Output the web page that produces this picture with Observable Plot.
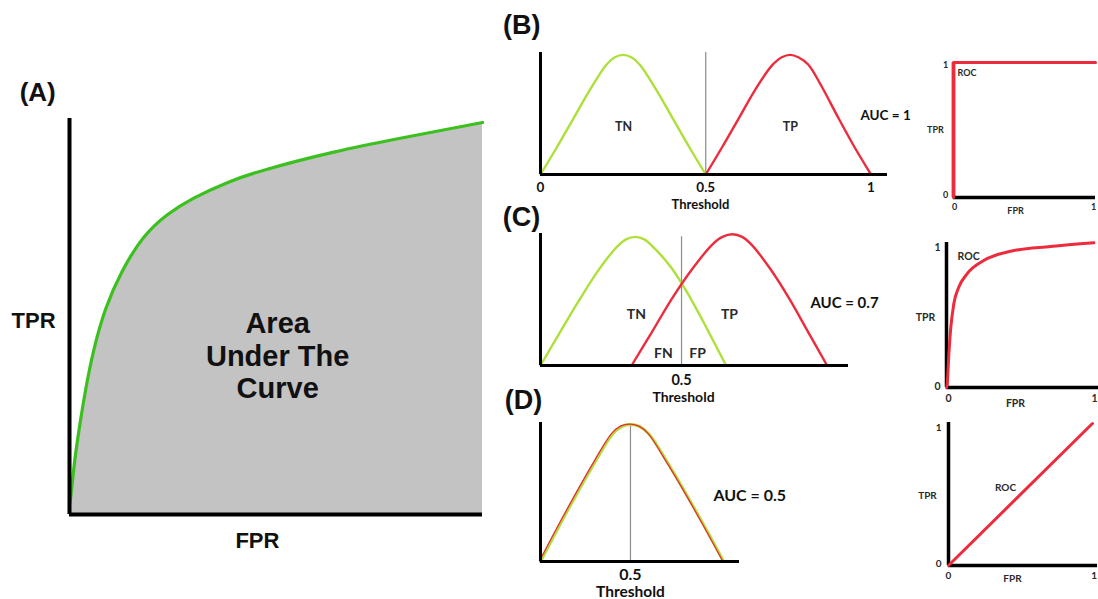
<!DOCTYPE html>
<html><head><meta charset="utf-8">
<script src="https://cdn.jsdelivr.net/npm/d3@7"></script>
<script src="https://cdn.jsdelivr.net/npm/@observablehq/plot@0.6"></script>
<style>
html,body{margin:0;padding:0;background:#fff;}
#chart{position:relative;width:1098px;height:599px;overflow:hidden;background:#fff;}
#chart svg{position:absolute;left:0;top:0;}
</style></head><body><div id="chart"></div>
<script>
// ---------- Panel A: ROC curve with area under it ----------
const rocA_fpr = [0, 0.003, 0.012, 0.024, 0.040, 0.060, 0.088, 0.128, 0.180, 0.237, 0.301, 0.382, 0.479, 0.640, 0.801, 1.0];
const rocA_tpr = [0.03, 0.044, 0.130, 0.220, 0.320, 0.420, 0.520, 0.615, 0.700, 0.757, 0.799, 0.838, 0.872, 0.915, 0.950, 0.990];
const labelsA = [["(A)", -0.077, 1.066], ["TPR", -0.087, 0.490], ["FPR", 0.455, -0.066]];
const aucTextA = [["Area\nUnder The\nCurve", 0.504, 0.402]];

// ---------- Panel B: separated distributions, AUC = 1 ----------
const tnB_t = [0, 0.05, 0.10, 0.15, 0.20, 0.225, 0.25, 0.275, 0.30, 0.35, 0.40, 0.45, 0.50];
const tnB_h = [0, 0.23, 0.47, 0.71, 0.92, 0.98, 1.0, 0.98, 0.92, 0.71, 0.47, 0.23, 0];
const tpB_t = [0.50, 0.55, 0.60, 0.65, 0.70, 0.73, 0.756, 0.78, 0.81, 0.85, 0.90, 0.95, 1.0];
const tpB_h = [0, 0.23, 0.47, 0.71, 0.91, 0.98, 1.0, 0.98, 0.92, 0.74, 0.48, 0.23, 0];
const ticksB = [0, 0.5, 1];
const labelsB = [["TN", 0.251, 0.393], ["TP", 0.756, 0.393]];
const aucB = [["AUC = 1", 0.968, 0.493]];
const rocB_fpr = [0, 0, 1];
const rocB_tpr = [0, 1, 1];

// ---------- Panel C: overlapping distributions, AUC = 0.7 ----------
const tnC_t = [0, 0.067, 0.135, 0.202, 0.270, 0.303, 0.337, 0.368, 0.400, 0.464, 0.530, 0.594, 0.658];
const tnC_h = [0, 0.25, 0.50, 0.73, 0.92, 0.98, 1.0, 0.98, 0.92, 0.76, 0.53, 0.27, 0];
const tpC_t = [0.323, 0.395, 0.466, 0.538, 0.609, 0.645, 0.681, 0.715, 0.748, 0.815, 0.882, 0.949, 1.016];
const tpC_h = [0, 0.26, 0.52, 0.75, 0.94, 1.0, 1.02, 1.0, 0.94, 0.75, 0.52, 0.26, 0];
const ticksC = [0.5];
const labelsC = [["TN", 0.340, 0.396], ["TP", 0.670, 0.396], ["FN", 0.436, 0.093], ["FP", 0.557, 0.093]];
const aucC = [["AUC = 0.7", 0.957, 0.482]];
const rocC_fpr = [0, 0.005, 0.016, 0.027, 0.049, 0.082, 0.138, 0.250, 0.430, 0.698, 0.989];
const rocC_tpr = [0, 0.026, 0.236, 0.399, 0.585, 0.701, 0.795, 0.888, 0.953, 0.986, 1.012];

// ---------- Panel D: identical distributions, AUC = 0.5 ----------
const distD_t = [0, 0.10, 0.20, 0.30, 0.40, 0.45, 0.50, 0.552, 0.604, 0.707, 0.811, 0.914, 1.018];
const distD_h = [0, 0.25, 0.49, 0.72, 0.93, 0.985, 1.0, 0.985, 0.93, 0.72, 0.49, 0.25, 0];
const ticksD = [0.5];
const aucD = [["AUC = 0.5", 0.961, 0.482]];
const rocD_fpr = [0, 1];
const rocD_tpr = [0, 1];

const rocTicks = [0, 1];

// ---------- helpers ----------
const W = 1098, H = 599;
const GREEN = "#aee03a", RED = "#ec2c3c", INK = "#111", DARK = "#2a2a2a";
const SANS = "Lato, 'Open Sans', sans-serif";
const ARIAL = "'Liberation Sans', Arial, sans-serif";
const zip = (a, b) => a.map((v, i) => ({x: v, y: b[i]}));
const lab = (arr) => arr.map(([t, x, y]) => ({t, x, y}));

function panel(box, xd, yd, marks) {
  const svg = Plot.plot({
    width: W, height: H,
    marginLeft: box[0], marginRight: W - box[1], marginTop: box[2], marginBottom: H - box[3],
    x: {domain: xd, axis: null}, y: {domain: yd, axis: null},
    style: {background: "transparent", overflow: "visible", fontFamily: SANS, fontWeight: "bold", color: INK},
    marks
  });
  document.getElementById("chart").appendChild(svg);
}
const txt = (arr, o) => Plot.text(lab(arr), {x: "x", y: "y", text: "t", fill: INK, ...o});
const axes = (w) => [Plot.ruleX([0], {stroke: "#000", strokeWidth: w}), Plot.ruleY([0], {stroke: "#000", strokeWidth: w})];
function xTicks(ticks, yPos, o) {
  return Plot.text(ticks, {x: d => d, y: () => yPos, text: d => String(d), fill: INK, ...o});
}
function rocTickLabels(xl, yl, xb, o) {
  return [
    Plot.text(rocTicks, {x: () => xl, y: d => d === 0 ? yl[0] : yl[1], text: d => String(d), fill: DARK, ...o}),
    Plot.text(rocTicks, {x: d => d === 0 ? xb[0] : xb[1], y: () => xb[2], text: d => String(d), fill: DARK, ...o})
  ];
}

// ---------- Panel A ----------
const dataA = zip(rocA_fpr, rocA_tpr);
panel([69, 482, 118, 514], [0, 1], [0, 1], [
  Plot.areaY(dataA, {x: "x", y: "y", fill: "#c3c3c3", curve: "natural"}),
  Plot.line(dataA, {x: "x", y: "y", stroke: "#3cc01f", strokeWidth: 3.2, curve: "natural"}),
  ...axes(4),
  txt(labelsA.slice(0, 1), {fontSize: 26, fontFamily: ARIAL}),
  txt(labelsA.slice(1), {fontSize: 22, fontFamily: ARIAL}),
  txt(aucTextA, {fontSize: 29, fontFamily: ARIAL, lineHeight: 1.12})
]);

// ---------- Panel B ----------
panel([540, 887, 52, 174], [0, 1.05], [0, 1.02], [
  Plot.ruleX([0.5], {stroke: "#8a8a8a", strokeWidth: 1.2}),
  Plot.line(zip(tnB_t, tnB_h), {x: "x", y: "y", stroke: GREEN, strokeWidth: 2.4, curve: "catmull-rom"}),
  Plot.line(zip(tpB_t, tpB_h), {x: "x", y: "y", stroke: RED, strokeWidth: 2.4, curve: "catmull-rom"}),
  ...axes(3),
  xTicks(ticksB, -0.109, {fontSize: 13.5}),
  txt([["Threshold", 0.484, -0.251]], {fontSize: 13}),
  txt(labelsB, {fontSize: 12.5, fill: DARK}),
  txt(aucB, {fontSize: 13.5, textAnchor: "start"}),
  txt([["(B)", -0.057, 1.246]], {fontSize: 27, fontFamily: ARIAL})
]);
panel([953, 1095, 62, 197], [0, 1], [0, 1], [
  ...axes(3.5),
  Plot.line(zip(rocB_fpr, rocB_tpr), {x: "x", y: "y", stroke: RED, strokeWidth: 3, curve: "linear"}),
  ...rocTickLabels(-0.056, [0.015, 0.978], [0.007, 0.986, -0.074], {fontSize: 9}),
  txt([["TPR", -0.127, 0.496], ["FPR", 0.437, -0.104]], {fontSize: 9, fill: DARK}),
  txt([["ROC", 0.028, 0.919]], {fontSize: 9, fill: DARK, textAnchor: "start"})
]);

// ---------- Panel C ----------
panel([540, 848, 233, 365], [0, 1.092], [0, 1.026], [
  Plot.ruleX([0.5], {y1: 0, y2: 1.0, stroke: "#8a8a8a", strokeWidth: 1.2}),
  Plot.line(zip(tnC_t, tnC_h), {x: "x", y: "y", stroke: GREEN, strokeWidth: 2.4, curve: "catmull-rom"}),
  Plot.line(zip(tpC_t, tpC_h), {x: "x", y: "y", stroke: RED, strokeWidth: 2.4, curve: "catmull-rom"}),
  ...axes(3),
  xTicks(ticksC, -0.117, {fontSize: 14.5}),
  txt([["Threshold", 0.507, -0.249]], {fontSize: 14}),
  txt(labelsC, {fontSize: 14, fill: DARK}),
  txt(aucC, {fontSize: 15, textAnchor: "start"}),
  txt([["(C)", -0.067, 1.150]], {fontSize: 27, fontFamily: ARIAL})
]);
panel([946, 1098, 242, 387], [0, 1.02], [0, 1.014], [
  ...axes(3.5),
  Plot.line(zip(rocC_fpr, rocC_tpr), {x: "x", y: "y", stroke: RED, strokeWidth: 3, curve: "monotone-x"}),
  ...rocTickLabels(-0.060, [0.007, 0.979], [0.013, 0.993, -0.077], {fontSize: 10.5}),
  txt([["TPR", -0.141, 0.490], ["FPR", 0.463, -0.112]], {fontSize: 10.5, fill: DARK}),
  txt([["ROC", 0.074, 0.916]], {fontSize: 10.5, fill: DARK, textAnchor: "start"})
]);

// ---------- Panel D ----------
const dataD = zip(distD_t, distD_h);
panel([540, 739, 422, 561], [0, 1.106], [0, 1.015], [
  Plot.ruleX([0.5], {y1: 0, y2: 1.0, stroke: "#8a8a8a", strokeWidth: 1.2}),
  Plot.line(dataD, {x: "x", y: "y", stroke: GREEN, strokeWidth: 3, curve: "catmull-rom"}),
  Plot.line(dataD, {x: "x", y: "y", stroke: RED, strokeWidth: 1.3, dx: -1, dy: -0.5, curve: "catmull-rom"}),
  ...axes(3),
  xTicks(ticksD, -0.095, {fontSize: 16}),
  txt([["Threshold", 0.5, -0.226]], {fontSize: 15.5}),
  txt(aucD, {fontSize: 16, textAnchor: "start"}),
  txt([["(D)", -0.094, 1.175]], {fontSize: 27, fontFamily: ARIAL})
]);
panel([948, 1097, 422, 565], [0, 1.035], [0, 1.007], [
  ...axes(3.5),
  Plot.line(zip(rocD_fpr, rocD_tpr), {x: "x", y: "y", stroke: RED, strokeWidth: 3}),
  ...rocTickLabels(-0.069, [0.014, 0.972], [0.0, 1.012, -0.070], {fontSize: 10}),
  txt([["TPR", -0.146, 0.493], ["FPR", 0.444, -0.092], ["ROC", 0.396, 0.549]], {fontSize: 10, fill: DARK})
]);
</script></body></html>
